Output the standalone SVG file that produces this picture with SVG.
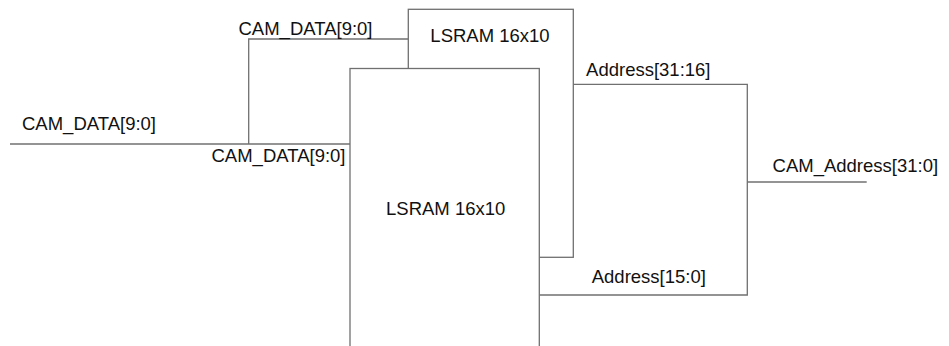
<svg xmlns="http://www.w3.org/2000/svg" width="949" height="346" viewBox="0 0 949 346">
<style>
.box{fill:#fff;stroke:#707070;stroke-width:1.3}
.wire{fill:none;stroke:#707070;stroke-width:1.3}
text{font-family:"Liberation Sans",Arial,sans-serif;font-size:18.5px;fill:#111;text-anchor:middle}
</style>
<rect width="949" height="346" fill="#fff"/>
<g id="connectors">
<path class="wire" d="M10,144H350"/>
<path class="wire" d="M248.7,144V39H408"/>
<path class="wire" d="M573,84.3H747.3V295H539.3"/>
<path class="wire" d="M747.3,182H866.7"/>
</g>
<g id="lsram_back">
<rect class="box" x="408.3" y="9.3" width="165" height="248"/>
<text x="490" y="41.7">LSRAM 16x10</text>
</g>
<g id="lsram_front">
<rect class="box" x="350" y="68.5" width="189.3" height="290"/>
<text x="445.7" y="215">LSRAM 16x10</text>
</g>
<g id="labels">
<text x="305.5" y="35">CAM_DATA[9:0]</text>
<text x="89" y="130">CAM_DATA[9:0]</text>
<text x="278.5" y="162">CAM_DATA[9:0]</text>
<text x="648.3" y="76">Address[31:16]</text>
<text x="648.8" y="283">Address[15:0]</text>
<text x="855.3" y="171.7">CAM_Address[31:0]</text>
</g>
</svg>
